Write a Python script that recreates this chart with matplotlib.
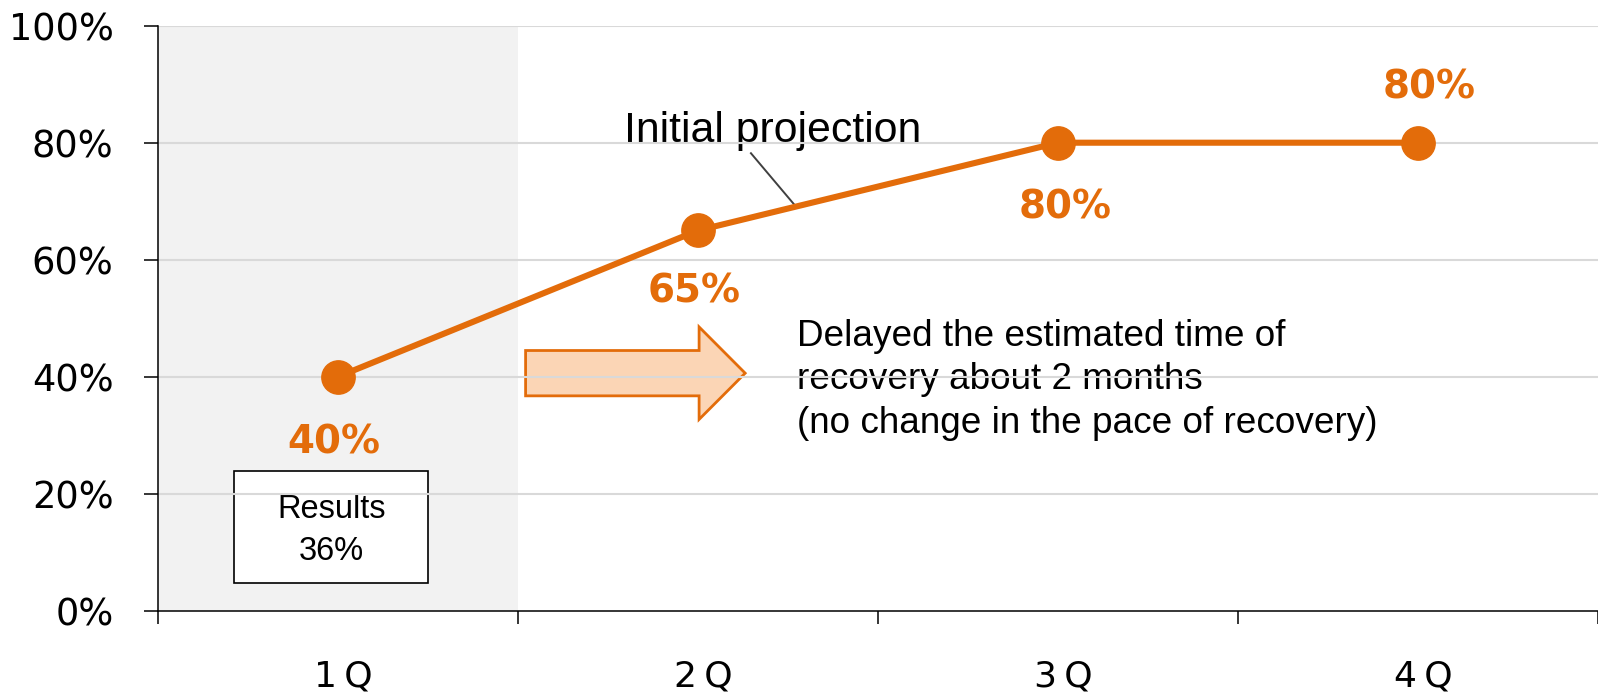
import matplotlib
matplotlib.use("Agg")
import matplotlib.pyplot as plt
from matplotlib.patches import Rectangle, FancyArrow
from matplotlib.transforms import ScaledTranslation
import numpy as np

# data
quarters = ["1\u2009Q", "2\u2009Q", "3\u2009Q", "4\u2009Q"]
projection = [40, 65, 80, 80]
value_labels = ["40%", "65%", "80%", "80%"]
# label offsets (px) from each point: x shift, baseline shift
label_dx = [-4, -4, 7, 11]
label_dy = [-76.5, -72.5, -75.5, 44.5]
results_label = "Results\n36%"
yticks = [0, 20, 40, 60, 80, 100]

ORANGE = "#e36c0a"
PX = 72 / 100  # pixels -> points at dpi 100

fig = plt.figure(figsize=(15.98, 6.93), dpi=100)
ax = fig.add_axes([0.0989, 0.1188, 0.9011, 0.8441])

xpos = np.arange(len(quarters)) + 0.5
ax.set_xlim(0, len(quarters))
ax.set_ylim(0, 100)

# shaded "results" quarter
ax.axvspan(0, 1, color="#f2f2f2", zorder=0, lw=0)

# gridlines drawn over the box / arrow / notes
for y in yticks[1:]:
    ax.axhline(y, color="#d9d9d9", lw=1.5, zorder=1.5)

# projection line
ax.plot(xpos, projection, color=ORANGE, lw=4.4, marker="o", markersize=24,
        zorder=3, solid_capstyle="butt")

for x, v, lab, dx, dy in zip(xpos, projection, value_labels, label_dx, label_dy):
    ax.annotate(lab, (x, v), xytext=(dx * PX, dy * PX), textcoords="offset points",
                ha="center", va="baseline", fontsize=28, fontweight="bold",
                color=ORANGE, family="DejaVu Sans", zorder=4)

# "Initial projection" callout with leader line
ax.text(1.294, 80.2, "Initial projection", fontsize=30.8, family="Liberation Sans",
        ha="left", va="baseline", zorder=1)
lead_x = 1.772
lead_y = np.interp(lead_x, xpos, projection)
ax.plot([1.647, lead_x], [78.2, lead_y], color="#404040", lw=1.4, zorder=2)

# results box
ax.add_patch(Rectangle((0.211, 4.7), 0.538, 19.1, facecolor="white",
                       edgecolor="black", lw=1.2, zorder=1))
ax.text(0.482, 13.75, results_label, fontsize=23.5, family="Liberation Sans",
        ha="center", va="center", linespacing=1.45, zorder=1)

# delay arrow and note
ax.add_patch(FancyArrow(1.021, 40.6, 0.61, 0, width=7.75, head_width=15.8,
                        head_length=0.128, length_includes_head=True,
                        facecolor="#fbd5b5", edgecolor=ORANGE, lw=2, zorder=1))
ax.text(1.775, 39.45,
        "Delayed the estimated time of\nrecovery about 2 months\n(no change in the pace of recovery)",
        fontsize=26.6, family="Liberation Sans", ha="left", va="center",
        linespacing=1.3, zorder=1)

# axes styling
for side in ["top", "right"]:
    ax.spines[side].set_visible(False)
for side in ["left", "bottom"]:
    ax.spines[side].set_linewidth(1.1)

ax.set_yticks(yticks)
ax.set_yticklabels([f"{t}%" for t in yticks])
ax.tick_params(axis="y", direction="out", length=10, width=1.1, pad=22,
               labelsize=26.5)

ax.set_xticks(np.arange(len(quarters) + 1))
ax.set_xticklabels([])
ax.tick_params(axis="x", which="major", direction="out", length=9.4, width=1.1)
ax.set_xticks(xpos, minor=True)
ax.set_xticklabels(quarters, minor=True)
ax.tick_params(axis="x", which="minor", length=0, pad=35, labelsize=26)
shift = ScaledTranslation(5 / 100, 0, fig.dpi_scale_trans)
for lab in ax.get_xticklabels(minor=True):
    lab.set_transform(lab.get_transform() + shift)

fig.savefig("out.png", dpi=100)
